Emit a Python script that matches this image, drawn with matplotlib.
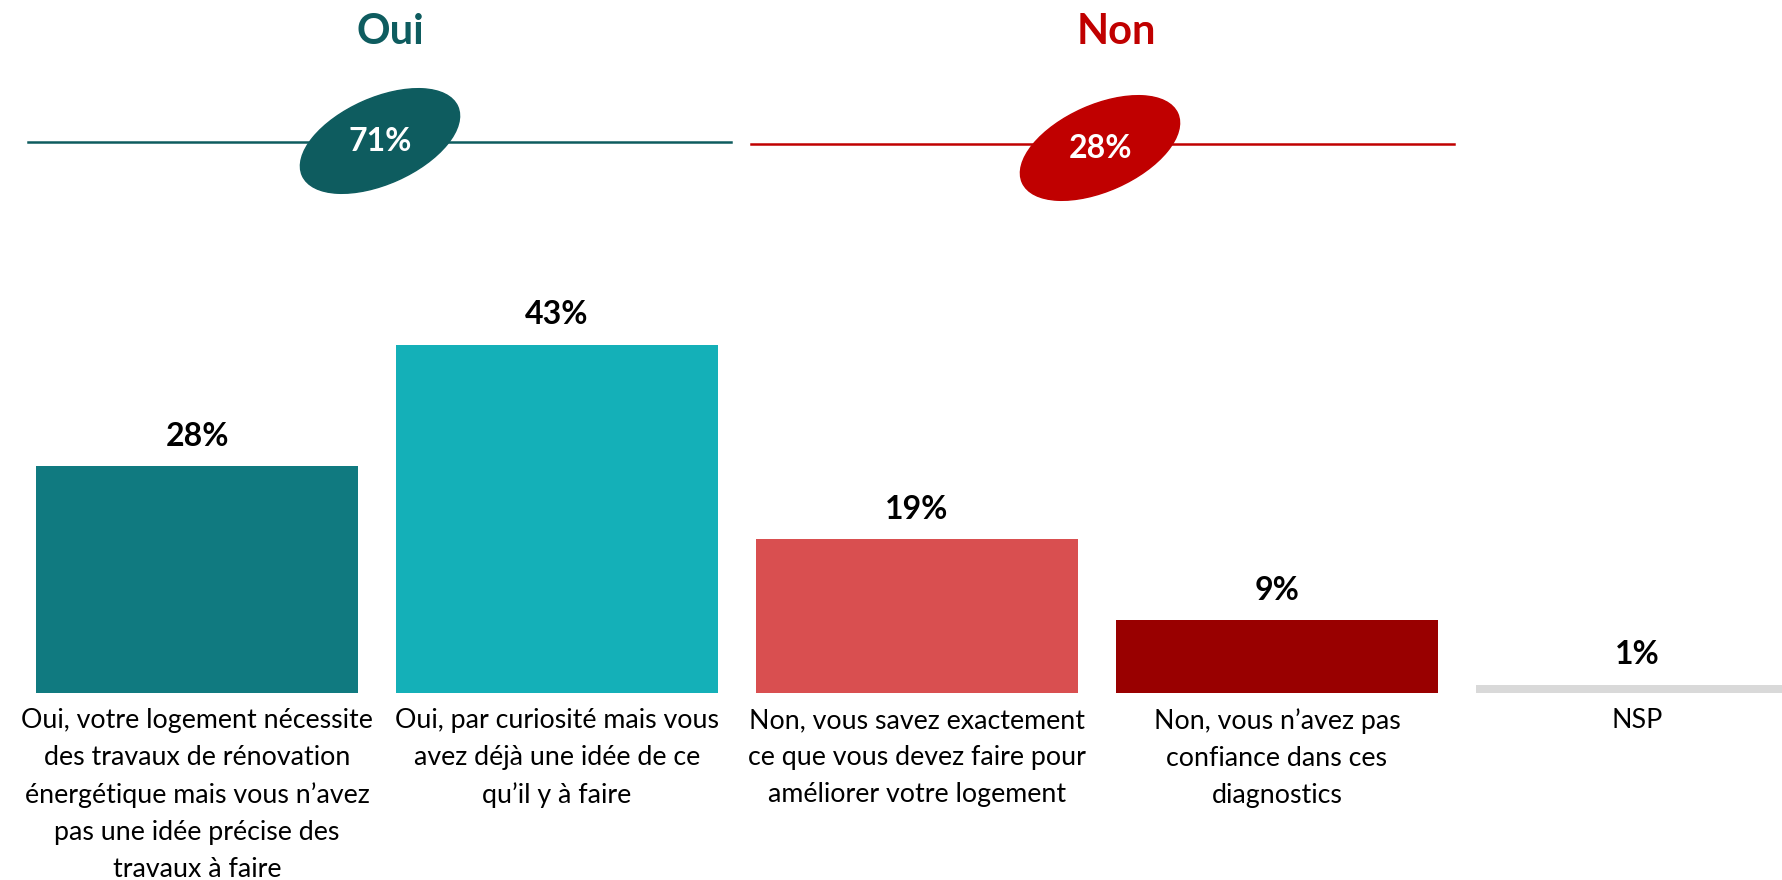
import matplotlib.pyplot as plt
from matplotlib.patches import Ellipse
from matplotlib.lines import Line2D

plt.rcParams['font.family'] = ['Lato', 'DejaVu Sans']

# donnees
labels = ["Oui, votre logement nécessite\ndes travaux de rénovation\nénergétique mais vous n\u2019avez\npas une idée précise des\ntravaux à faire",
          "Oui, par curiosité mais vous\navez déjà une idée de ce\nqu\u2019il y à faire",
          "Non, vous savez exactement\nce que vous devez faire pour\naméliorer votre logement",
          "Non, vous n\u2019avez pas\nconfiance dans ces\ndiagnostics",
          "NSP"]
values = [28, 43, 19, 9, 1]
colors = ["#107A80", "#14B0B8", "#D94F50", "#990000", "#D9D9D9"]

groups = ["Oui", "Non"]
group_totals = [71, 28]
group_colors = ["#0E5C5F", "#C00000"]

W, H = 1782, 880
fig = plt.figure(figsize=(W / 100, H / 100), dpi=100)

# axe des barres : bas des barres a y=693 px (depuis le haut)
base = H - 693
ax = fig.add_axes([0, base / H, 1, (H - base) / H])
x = list(range(len(values)))
ax.bar(x, values, width=0.894, color=colors)
ax.set_xlim(-197 / 360, (W - 197) / 360)
ax.set_ylim(0, (H - base) / 8.1)
ax.axis('off')

for i, v in enumerate(values):
    ax.annotate(f"{v}%", (i, v), xytext=(0, 30), textcoords='offset pixels',
                ha='center', va='center', fontsize=23, fontweight='bold', color='black')
    ax.annotate(labels[i], (i, 0), xytext=(0, -15), textcoords='offset pixels',
                ha='center', va='top', fontsize=19.3, color='black',
                linespacing=1.6, annotation_clip=False)

# en-tete Oui / Non
top = fig.add_axes([0, 0, 1, 1], zorder=-1)
top.set_xlim(0, W)
top.set_ylim(0, H)
top.axis('off')

line_spans = [(28, 731, 142), (751, 1454, 144)]
ell_centers = [(380, 141), (1100, 148)]
title_x = [390, 1116]
for g, tot, col, (x0, x1, ly), (ex, ey), tx in zip(groups, group_totals, group_colors,
                                                   line_spans, ell_centers, title_x):
    top.add_line(Line2D([x0, x1], [H - ly, H - ly], color=col, lw=1.8, zorder=1))
    top.add_patch(Ellipse((ex, H - ey), 170, 86, angle=24, color=col, zorder=2))
    top.text(ex, H - ey, f"{tot}%", ha='center', va='center', fontsize=23,
             fontweight='bold', color='white', zorder=3)
    top.text(tx, H - 32, g, ha='center', va='center', fontsize=30,
             fontweight='bold', color=col)

fig.savefig("out.png", dpi=100)
